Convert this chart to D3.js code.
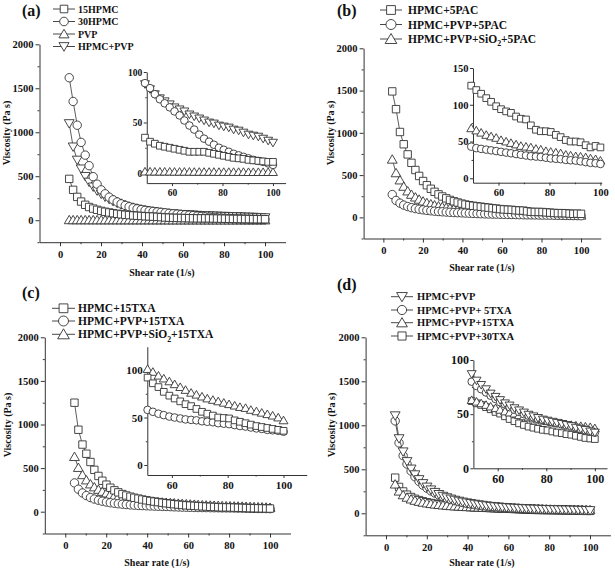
<!DOCTYPE html>
<html><head><meta charset="utf-8">
<script src="https://cdn.jsdelivr.net/npm/d3@7"></script>
<style>
body{margin:0;background:#fff}
svg{display:block}
text{font-family:"Liberation Serif","Times New Roman",serif;font-weight:bold;fill:#111}
</style>
</head><body><svg id="chart" width="615" height="571"></svg>
<script>
// ---------------- DATA ----------------
const shearRate = [4.5, 6.4, 8.4, 10.3, 12.3, 14.2, 16.2, 18.1, 20.1, 22.0, 24.0, 25.9, 27.9, 29.8, 31.8, 33.7, 35.7, 37.6, 39.6, 41.5, 43.5, 45.4, 47.4, 49.3, 51.3, 53.2, 55.2, 57.1, 59.1, 61.0, 63.0, 64.9, 66.9, 68.8, 70.8, 72.7, 74.7, 76.6, 78.6, 80.5, 82.5, 84.4, 86.4, 88.3, 90.3, 92.2, 94.2, 96.1, 98.1, 100.0];

// (a)
const a_15HPMC = [470, 345, 265, 212, 175, 150, 132, 118, 106, 96, 88, 80, 73, 67, 62, 58, 54, 51, 48, 45, 43, 41, 38, 35, 31, 29, 27, 26, 25, 24, 23, 22, 21, 21, 21, 21, 20, 19, 18, 17, 16, 15, 14.5, 14, 13, 12.5, 12, 11.5, 11, 11];
const a_30HPMC = [1620, 1350, 1080, 885, 740, 620, 495, 410, 345, 300, 262, 232, 207, 186, 168, 153, 140, 129, 120, 112, 105, 99, 94, 89, 84, 78, 73, 69, 65, 61, 57, 52, 47, 43, 38, 34, 31, 28, 25, 23, 21, 19, 17.5, 16, 14.5, 13, 12, 11, 9.5, 8];
const a_PVP = [3, 2.8, 2.6, 2.5, 2.4, 2.3, 2.2, 2.1, 2, 2, 1.9, 1.9, 1.8, 1.8, 1.7, 1.7, 1.6, 1.6, 1.6, 1.5, 1.5, 1.5, 1.4, 1.4, 1.4, 1.3, 1.3, 1.3, 1.3, 1.2, 1.2, 1.2, 1.2, 1.1, 1.1, 1.1, 1.1, 1.1, 1, 1, 1, 1, 1, 1, 0.9, 0.9, 0.9, 0.9, 0.9, 0.9];
const a_HPMC_PVP = [1100, 835, 685, 585, 500, 435, 380, 335, 298, 265, 238, 215, 195, 178, 163, 150, 139, 129, 120, 113, 106, 100, 94, 88, 83, 78, 74, 71, 68, 65, 63, 61, 58, 56, 54, 52, 50, 49, 47, 46, 45, 43, 42, 40, 38, 37, 36, 34, 32, 30];

// (b)
const b_HPMC_5PAC = [1490, 1280, 1010, 865, 745, 645, 560, 490, 430, 380, 338, 302, 272, 247, 225, 206, 190, 176, 163, 152, 144, 137, 131, 126, 120, 115, 109, 104, 98, 94, 91, 89, 84, 81, 80, 72, 66, 64, 64, 63, 59, 56, 52, 50, 50, 49, 45, 42, 44, 42];
const b_HPMC_PVP_5PAC = [270, 200, 168, 145, 128, 115, 104, 96, 89, 83, 78, 73, 69, 66, 63, 60, 57, 55, 53, 51, 49, 47, 45, 43, 41, 40, 39, 38, 37, 36, 35, 34, 33, 32, 31, 30, 29.5, 29, 28, 27, 26.5, 26, 25, 24.5, 24, 23, 22, 21, 20.5, 19.5];
const b_HPMC_PVP_SiO2_5PAC = [686, 525, 440, 365, 310, 270, 238, 212, 190, 172, 157, 144, 133, 124, 116, 109, 102, 96, 90, 85, 80, 75, 71, 68, 65, 62, 59, 57, 55, 52, 50, 48, 46, 44, 43, 42, 40, 39, 37, 36, 35, 34, 32, 31, 30, 29.5, 28.5, 27, 26, 24];

// (c)
const c_HPMC_15TXA = [1250, 940, 770, 665, 570, 480, 410, 355, 310, 275, 245, 222, 202, 186, 172, 160, 150, 140, 131, 123, 116, 110, 103, 97, 92, 86, 82, 77, 73, 70, 67, 64, 62, 59, 56, 54, 52, 50, 49.5, 49, 47, 45.5, 44, 42.5, 41, 40, 39, 38, 37, 36];
const c_HPMC_PVP_15TXA = [330, 258, 215, 185, 162, 145, 131, 120, 111, 103, 97, 91, 86, 82, 78, 75, 72, 70, 68, 66, 64, 62.5, 61, 60, 58, 56, 54, 52.5, 51, 50, 49, 48, 47.5, 47, 46, 45.5, 45, 44, 43.5, 43, 42, 41, 40.5, 39.5, 38.5, 38, 37, 36.5, 36, 35];
const c_HPMC_PVP_SiO2_15TXA = [630, 505, 422, 362, 316, 282, 254, 231, 212, 196, 182, 170, 160, 151, 144, 137, 131, 126, 121, 117, 113, 110, 107, 104, 101, 98, 94, 91, 88, 85, 82, 79, 76, 74, 72, 70, 68.5, 67, 65.5, 64, 62.5, 61, 60, 58, 56.5, 55, 53.5, 52, 50, 47];

// (d)
const d_HPMC_PVP = [1110, 850, 700, 590, 505, 440, 385, 340, 300, 268, 240, 216, 196, 179, 164, 151, 140, 130, 121, 113, 106, 99, 93, 87, 81, 77, 73, 69, 66, 63, 60, 58, 55.5, 53.5, 51.5, 49.5, 48, 46.5, 45, 44, 43, 42, 41, 40, 39, 37.5, 36.5, 35.5, 34, 33];
const d_HPMC_PVP_5TXA = [1050, 800, 655, 560, 480, 415, 362, 320, 285, 255, 230, 208, 188, 171, 156, 143, 132, 122, 113, 105, 98, 91, 85, 80, 76, 73, 70, 67, 64, 61, 59, 56.5, 54, 52, 50, 48.5, 47, 45.5, 44.5, 43.5, 42.5, 41.5, 40.5, 39.5, 38.5, 37.5, 36, 35, 34, 33];
const d_HPMC_PVP_15TXA = [330, 250, 208, 180, 160, 145, 133, 123, 115, 108, 102, 97, 92, 88, 84, 81, 78, 75.5, 73, 71, 69, 67, 65, 63, 61.5, 60, 58.5, 57, 55.5, 54, 52.5, 51.5, 50.5, 49, 48, 47, 46, 45, 44, 43.5, 42.5, 42, 41.5, 40.5, 40, 39.5, 39, 38.5, 38, 37];
const d_HPMC_PVP_30TXA = [405, 300, 248, 212, 185, 165, 150, 137, 126, 117, 110, 103, 97, 92, 88, 84, 80, 77, 74, 71, 69, 66, 64, 62, 60, 58.5, 56.5, 54.5, 52, 50.5, 48, 45.5, 43.5, 41.5, 40, 38.5, 37.5, 36.5, 35.5, 35, 34, 33, 32.5, 31.5, 31, 30, 29, 28, 27.5, 27];

// tick labels
const mainYTicks = [0, 500, 1000, 1500, 2000];
const mainXTicks = [0, 20, 40, 60, 80, 100];
const insetXTicks = [60, 80, 100];
const insetYTicksA = [0, 50, 100];
const insetYTicksB = [0, 50, 100, 150];
const xTitle = "Shear rate (1/s)";
const yTitle = "Viscosity (Pa s)";

// ---------------- LAYOUT ----------------
const panels = [
  { tag: "(a)", tagPos: [22, 16],
    series: [
      { name: "15HPMC", values: a_15HPMC, sym: "square" },
      { name: "30HPMC", values: a_30HPMC, sym: "circle" },
      { name: "PVP", values: a_PVP, sym: "up" },
      { name: "HPMC+PVP", values: a_HPMC_PVP, sym: "down" } ],
    main: { x: [39.5, 285.5], y: [242.2, 44.3] },
    inset: { x: [146.75, 285.6], xd: [50, 105], y: [183.1, 72], yd: [-10, 100], yt: insetYTicksA, yminor: [25, 75], fs: 9.5 },
    legend: { lx: [53, 75], tx: 78, rows: [9, 21.5, 34, 46.5], fs: 10, r: 4.3 },
    ylab: [6, 133], xlab: [162, 272] },
  { tag: "(b)", tagPos: [337, 16],
    series: [
      { name: "HPMC+5PAC", values: b_HPMC_5PAC, sym: "square" },
      { name: "HPMC+PVP+5PAC", values: b_HPMC_PVP_5PAC, sym: "circle" },
      { name: "HPMC+PVP+SiO2+5PAC", values: b_HPMC_PVP_SiO2_5PAC, sym: "up" } ],
    main: { x: [363.6, 600.8], y: [238.5, 48.3] },
    inset: { x: [473, 601.7], xd: [50, 100.5], y: [182.7, 68], yd: [-6, 150], yt: insetYTicksB, yminor: [25, 75, 125], fs: 10.5 },
    legend: { lx: [380, 402], tx: 408, rows: [10, 24.5, 39], fs: 11.5, r: 5 },
    ylab: [330, 133], xlab: [482, 267] },
  { tag: "(c)", tagPos: [22, 298],
    series: [
      { name: "HPMC+15TXA", values: c_HPMC_15TXA, sym: "square" },
      { name: "HPMC+PVP+15TXA", values: c_HPMC_PVP_15TXA, sym: "circle" },
      { name: "HPMC+PVP+SiO2+15TXA", values: c_HPMC_PVP_SiO2_15TXA, sym: "up" } ],
    main: { x: [44.8, 290.5], y: [533.5, 337.3] },
    inset: { x: [147.3, 306.7], xd: [51.2, 108.3], y: [475, 346.7], yd: [-10.5, 124.5], yt: insetYTicksA, yminor: [25, 75], fs: 11 },
    legend: { lx: [52, 75], tx: 78, rows: [308.3, 321, 334.3], fs: 11.5, r: 5 },
    ylab: [7.3, 425], xlab: [157, 562] },
  { tag: "(d)", tagPos: [337, 290],
    series: [
      { name: "HPMC+PVP", values: d_HPMC_PVP, sym: "down" },
      { name: "HPMC+PVP+ 5TXA", values: d_HPMC_PVP_5TXA, sym: "circle" },
      { name: "HPMC+PVP+15TXA", values: d_HPMC_PVP_15TXA, sym: "up" },
      { name: "HPMC+PVP+30TXA", values: d_HPMC_PVP_30TXA, sym: "square" } ],
    main: { x: [365.6, 610.4], y: [535.3, 337.3] },
    inset: { x: [473.4, 607], xd: [50, 105], y: [468.3, 360], yd: [0, 100], yt: insetYTicksA, yminor: [25, 75], fs: 12 },
    legend: { lx: [391, 413], tx: 417, rows: [296.7, 310, 322.7, 336], fs: 10.5, r: 4.6 },
    ylab: [331.7, 425], xlab: [482, 562] }
];

const INK = "#333";
const FONT = '"Liberation Serif","Times New Roman",serif';
const svg = d3.select("#chart");
const fmt = d3.format("d");

function symPath(type, r) {
  if (type === "square") { const s = r * 0.88; return `M${-s},${-s}H${s}V${s}H${-s}Z`; }
  if (type === "circle") { return `M${r},0A${r},${r} 0 1,1 ${-r},0A${r},${r} 0 1,1 ${r},0Z`; }
  if (type === "up") return `M0,${-1.1 * r}L${1.17 * r},${0.9 * r}L${-1.17 * r},${0.9 * r}Z`;
  return `M0,${1.1 * r}L${1.17 * r},${-0.9 * r}L${-1.17 * r},${-0.9 * r}Z`;
}

function styleAxis(g, fs) {
  g.attr("font-family", FONT).attr("font-weight", "bold");
  g.select(".domain").attr("stroke", INK).attr("stroke-width", 1);
  g.selectAll(".tick line").attr("stroke", INK).attr("stroke-width", 1);
  g.selectAll(".tick text").attr("fill", "#111").attr("font-size", fs)
    .attr("font-family", FONT).attr("font-weight", "bold");
}

function drawSeries(g, xs, ys, s, idx, r) {
  const pts = shearRate.map((x, i) => ({ x, v: s.values[i] })).filter((d, i) => idx(i));
  g.append("path").datum(pts)
    .attr("d", d3.line().x(d => xs(d.x)).y(d => ys(d.v)))
    .attr("fill", "none").attr("stroke", INK).attr("stroke-width", 0.8);
  g.selectAll(null).data(pts).enter().append("path")
    .attr("d", symPath(s.sym, r))
    .attr("transform", d => `translate(${xs(d.x)},${ys(d.v)})`)
    .attr("fill", "#fff").attr("stroke", INK).attr("stroke-width", 0.9);
}

function addLabel(sel, label, fs) {
  const parts = label.split("SiO2");
  parts.forEach((p, i) => {
    let dyNext = 0;
    if (i > 0) {
      sel.append("tspan").text("SiO");
      sel.append("tspan").attr("font-size", fs * 0.68).attr("dy", fs * 0.3).text("2");
      dyNext = -fs * 0.3;
    }
    const t = sel.append("tspan").text(p);
    if (dyNext) t.attr("dy", dyNext);
  });
}

panels.forEach(P => {
  const g = svg.append("g");
  const x = d3.scaleLinear().domain([-10, 110]).range(P.main.x);
  const y = d3.scaleLinear().domain([-250, 2000]).range(P.main.y);

  const gy = g.append("g").attr("transform", `translate(${P.main.x[0]},0)`)
    .call(d3.axisLeft(y).tickValues(mainYTicks).tickFormat(fmt).tickSize(4).tickSizeOuter(0).tickPadding(2));
  styleAxis(gy, 10.5);
  const gym = g.append("g").attr("transform", `translate(${P.main.x[0]},0)`)
    .call(d3.axisLeft(y).tickValues([-250, 250, 750, 1250, 1750]).tickSize(2).tickFormat(""));
  gym.select(".domain").remove(); styleAxis(gym, 10);
  const gx = g.append("g").attr("transform", `translate(0,${P.main.y[0]})`)
    .call(d3.axisBottom(x).tickValues(mainXTicks).tickFormat(fmt).tickSize(4).tickSizeOuter(0).tickPadding(4));
  styleAxis(gx, 10.5);
  const gxm = g.append("g").attr("transform", `translate(0,${P.main.y[0]})`)
    .call(d3.axisBottom(x).tickValues([10, 30, 50, 70, 90]).tickSize(2).tickFormat(""));
  gxm.select(".domain").remove(); styleAxis(gxm, 10);

  g.append("text").attr("x", P.xlab[0]).attr("y", P.xlab[1]).attr("text-anchor", "middle")
    .attr("dy", "0.35em").attr("font-size", 10).text(xTitle);
  g.append("text").attr("transform", `translate(${P.ylab[0]},${P.ylab[1]}) rotate(-90)`)
    .attr("text-anchor", "middle").attr("dy", "0.35em").attr("font-size", 10).text(yTitle);
  g.append("text").attr("x", P.tagPos[0]).attr("y", P.tagPos[1]).attr("font-size", 16).text(P.tag);

  const gm = g.append("g");
  P.series.slice().reverse().forEach(s => drawSeries(gm, x, y, s, () => true, 4.2));

  const I = P.inset;
  const xi = d3.scaleLinear().domain(I.xd).range(I.x);
  const yi = d3.scaleLinear().domain(I.yd).range(I.y);
  const giy = g.append("g").attr("transform", `translate(${I.x[0]},0)`)
    .call(d3.axisLeft(yi).tickValues(I.yt).tickFormat(fmt).tickSize(3).tickSizeOuter(0).tickPadding(1.5));
  styleAxis(giy, I.fs);
  const giym = g.append("g").attr("transform", `translate(${I.x[0]},0)`)
    .call(d3.axisLeft(yi).tickValues(I.yminor).tickSize(1.5).tickFormat(""));
  giym.select(".domain").remove(); styleAxis(giym, I.fs);
  const gix = g.append("g").attr("transform", `translate(0,${I.y[0]})`)
    .call(d3.axisBottom(xi).tickValues(insetXTicks).tickFormat(fmt).tickSize(3).tickSizeOuter(0).tickPadding(3));
  styleAxis(gix, I.fs);
  const gixm = g.append("g").attr("transform", `translate(0,${I.y[0]})`)
    .call(d3.axisBottom(xi).tickValues([70, 90]).tickSize(1.5).tickFormat(""));
  gixm.select(".domain").remove(); styleAxis(gixm, I.fs);

  const gin = g.append("g");
  P.series.slice().reverse().forEach(s =>
    drawSeries(gin, xi, yi, s, i => shearRate[i] >= I.xd[0] - 1.5, 3.8));

  const L = P.legend;
  P.series.forEach((s, k) => {
    const cy = L.rows[k];
    const cx = (L.lx[0] + L.lx[1]) / 2;
    g.append("line").attr("x1", L.lx[0]).attr("x2", L.lx[1]).attr("y1", cy).attr("y2", cy)
      .attr("stroke", INK).attr("stroke-width", 0.9);
    g.append("path").attr("d", symPath(s.sym, L.r)).attr("transform", `translate(${cx},${cy})`)
      .attr("fill", "#fff").attr("stroke", INK).attr("stroke-width", 0.9);
    const t = g.append("text").attr("x", L.tx).attr("y", cy).attr("dy", "0.35em").attr("font-size", L.fs);
    addLabel(t, s.name, L.fs);
  });
});
</script>
</body></html>
